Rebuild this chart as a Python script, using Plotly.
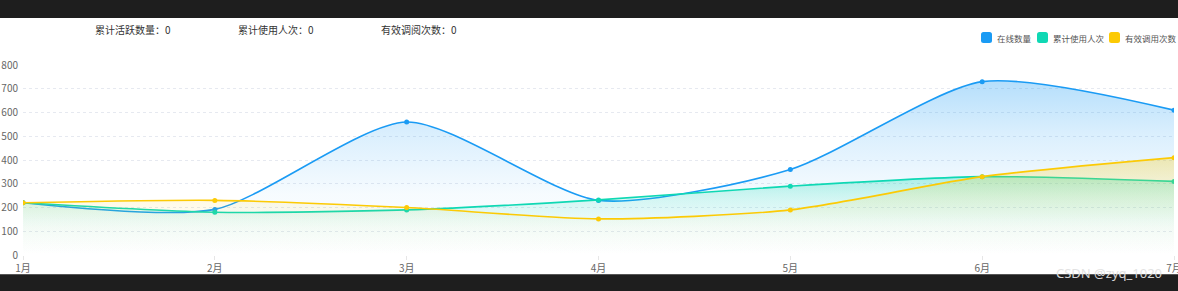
import plotly.graph_objects as go

months = ["1月", "2月", "3月", "4月", "5月", "6月", "7月"]
online = [220, 192, 560, 230, 360, 730, 610]
users = [220, 180, 190, 232, 290, 330, 310]
calls = [220, 230, 200, 152, 190, 330, 410]

series_names = ["在线数量", "累计使用人次", "有效调用次数"]
series_colors = ["#1a9bf4", "#0fd8b4", "#fcca05"]
fill_rgb = ["26,155,244", "15,216,180", "252,202,5"]
fill_alpha = [0.32, 0.30, 0.30]

y_ticks = [0, 100, 200, 300, 400, 500, 600, 700, 800]
header_texts = ["累计活跃数量：0", "累计使用人次：0", "有效调阅次数：0"]

FONT = "Noto Sans CJK SC, Microsoft YaHei, sans-serif"

W, H = 1178, 291
L, R, T, B = 23, 4, 65, 36
pw, ph = W - L - R, H - T - B

def px_x(p):
    return (p - L) / pw

def px_y(p):
    return (H - B - p) / ph

fig = go.Figure()
for name, vals, col, rgb, a in zip(series_names, [online, users, calls], series_colors, fill_rgb, fill_alpha):
    fig.add_trace(go.Scatter(
        x=months, y=vals, name=name, mode="lines+markers",
        line=dict(color=col, width=1.6, shape="spline", smoothing=0.7),
        marker=dict(color=col, size=5),
        fill="tozeroy",
        fillgradient=dict(type="vertical", start=0, stop=max(vals),
                          colorscale=[[0, f"rgba({rgb},0)"],
                                      [0.35, f"rgba({rgb},{a*0.12:.3f})"],
                                      [0.7, f"rgba({rgb},{a*0.5:.3f})"],
                                      [1, f"rgba({rgb},{a})"]]),
        showlegend=False,
    ))

fig.update_layout(
    width=W, height=H,
    margin=dict(l=L, r=R, t=T, b=B, autoexpand=False),
    paper_bgcolor="white", plot_bgcolor="white",
    font=dict(family=FONT, size=10, color="#666"),
    showlegend=False,
    xaxis=dict(range=[0, 6], showgrid=False, zeroline=False, showline=False,
               ticks="outside", ticklen=4, tickcolor="#e6e6e6",
               tickfont=dict(size=10, color="#666"), fixedrange=True),
    yaxis=dict(range=[0, 800], tickvals=y_ticks, showgrid=True, gridcolor="#e6e9f0",
               griddash="dot", gridwidth=1, zeroline=False, showline=False,
               ticks="", ticklabelstandoff=4,
               tickfont=dict(size=10, color="#666"), fixedrange=True),
)

# manual legend: rounded squares + labels
legend_sq_x = [981, 1037, 1109]
legend_txt_x = [996, 1052, 1124]
sq, rad, ly = 11, 2.5, 37.5

def rounded_rect(x0p, y0p, w, h, r):
    X = lambda p: px_x(p)
    Y = lambda p: px_y(p)
    x1p, y1p = x0p + w, y0p + h
    return (f"M {X(x0p + r)},{Y(y0p)} L {X(x1p - r)},{Y(y0p)} Q {X(x1p)},{Y(y0p)} {X(x1p)},{Y(y0p + r)} "
            f"L {X(x1p)},{Y(y1p - r)} Q {X(x1p)},{Y(y1p)} {X(x1p - r)},{Y(y1p)} "
            f"L {X(x0p + r)},{Y(y1p)} Q {X(x0p)},{Y(y1p)} {X(x0p)},{Y(y1p - r)} "
            f"L {X(x0p)},{Y(y0p + r)} Q {X(x0p)},{Y(y0p)} {X(x0p + r)},{Y(y0p)} Z")

for name, col, sx, tx in zip(series_names, series_colors, legend_sq_x, legend_txt_x):
    fig.add_shape(type="path", xref="paper", yref="paper",
                  path=rounded_rect(sx, ly - sq / 2, sq, sq, rad),
                  fillcolor=col, line_width=0, layer="above")
    fig.add_annotation(text=name, xref="paper", yref="paper", x=px_x(tx), y=px_y(ly),
                       xanchor="left", yanchor="middle", showarrow=False, borderpad=0,
                       font=dict(size=8.5, color="#555", family=FONT))

# dark bands top and bottom
fig.add_shape(type="rect", xref="paper", yref="paper", x0=-0.1, x1=1.1,
              y0=px_y(18), y1=px_y(-5), fillcolor="#1e1e1e", line_width=0, layer="above")
fig.add_shape(type="rect", xref="paper", yref="paper", x0=-0.1, x1=1.1,
              y0=px_y(296), y1=px_y(274.3), fillcolor="#1e1e1e", line_width=0, layer="above")

for txt, x in zip(header_texts, [94, 237, 380]):
    fig.add_annotation(text=txt, xref="paper", yref="paper", x=px_x(x), y=px_y(29),
                       xanchor="left", yanchor="middle", showarrow=False, borderpad=0,
                       font=dict(size=10, color="#333", family=FONT))

fig.add_annotation(text="CSDN @zyq_1020", xref="paper", yref="paper",
                   x=px_x(1163), y=px_y(273), xanchor="right", yanchor="middle",
                   showarrow=False, borderpad=0,
                   font=dict(size=13, color="rgba(225,225,225,0.95)", family="Noto Sans, sans-serif"))

fig.write_html("out.html")
